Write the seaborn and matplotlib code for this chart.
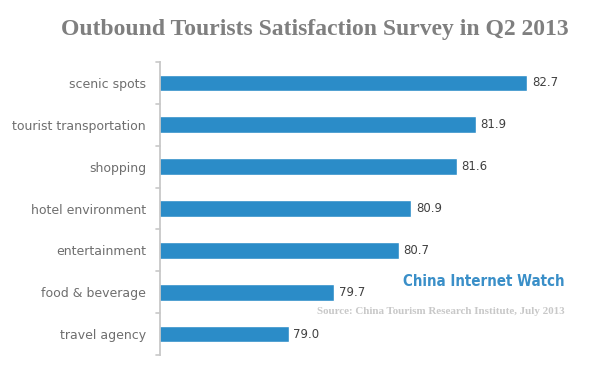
import matplotlib
matplotlib.use("Agg")
import matplotlib.pyplot as plt
import seaborn as sns
import pandas as pd

# Survey data
categories = ["scenic spots", "tourist transportation", "shopping", "hotel environment",
              "entertainment", "food & beverage", "travel agency"]
scores = [82.7, 81.9, 81.6, 80.9, 80.7, 79.7, 79.0]

df = pd.DataFrame({"category": categories, "score": scores})

sns.set_theme(style="white")
plt.rcParams['font.family'] = ['DejaVu Sans']

fig = plt.figure(figsize=(6, 3.69), dpi=100)
ax = fig.add_axes([160 / 600, 1 - 355 / 369, 390 / 600, 293 / 369])

sns.barplot(data=df, y="category", x="score", color="#2b8cc8", width=0.4,
            saturation=1, ax=ax, orient="h")

ax.set_xlim(77, 83.05)
ax.set_xlabel("")
ax.set_ylabel("")
ax.set_xticks([])

for spine in ["top", "right", "bottom"]:
    ax.spines[spine].set_visible(False)
ax.spines["left"].set_color("#c8c8c8")
ax.spines["left"].set_linewidth(1.3)

# tick marks between categories
ax.set_yticks(range(len(categories)))
ax.set_yticklabels(categories, fontsize=9, color="#6e6e6e")
ax.tick_params(axis="y", length=0, pad=10)
for b in [i - 0.5 for i in range(len(categories) + 1)]:
    ax.plot([-0.011, 0], [b, b], transform=ax.get_yaxis_transform(), color="#c8c8c8",
            lw=1.2, clip_on=False)
ax.set_ylim(len(categories) - 0.5, -0.5)

for i, v in enumerate(scores):
    ax.text(v + 0.07, i, f"{v:.1f}", va="center", ha="left", fontsize=8.5, color="#404040")

fig.text(0.525, 1 - 30 / 369, "Outbound Tourists Satisfaction Survey in Q2 2013", ha="center",
         va="center", fontsize=17, fontweight="bold", color="#7f7f7f", family="Liberation Serif")

fig.text(484 / 600, 1 - 282 / 369, "China Internet Watch", ha="center", va="center",
         fontsize=10.8, fontweight="bold", fontstretch="condensed", color="#3a8fc8",
         family="DejaVu Sans")
fig.text(565 / 600, 1 - 312 / 369, "Source: China Tourism Research Institute, July 2013", ha="right",
         va="center", fontsize=7.9, fontweight="bold", color="#c8c8c8", family="Liberation Serif")

fig.savefig("out.png", dpi=100)
